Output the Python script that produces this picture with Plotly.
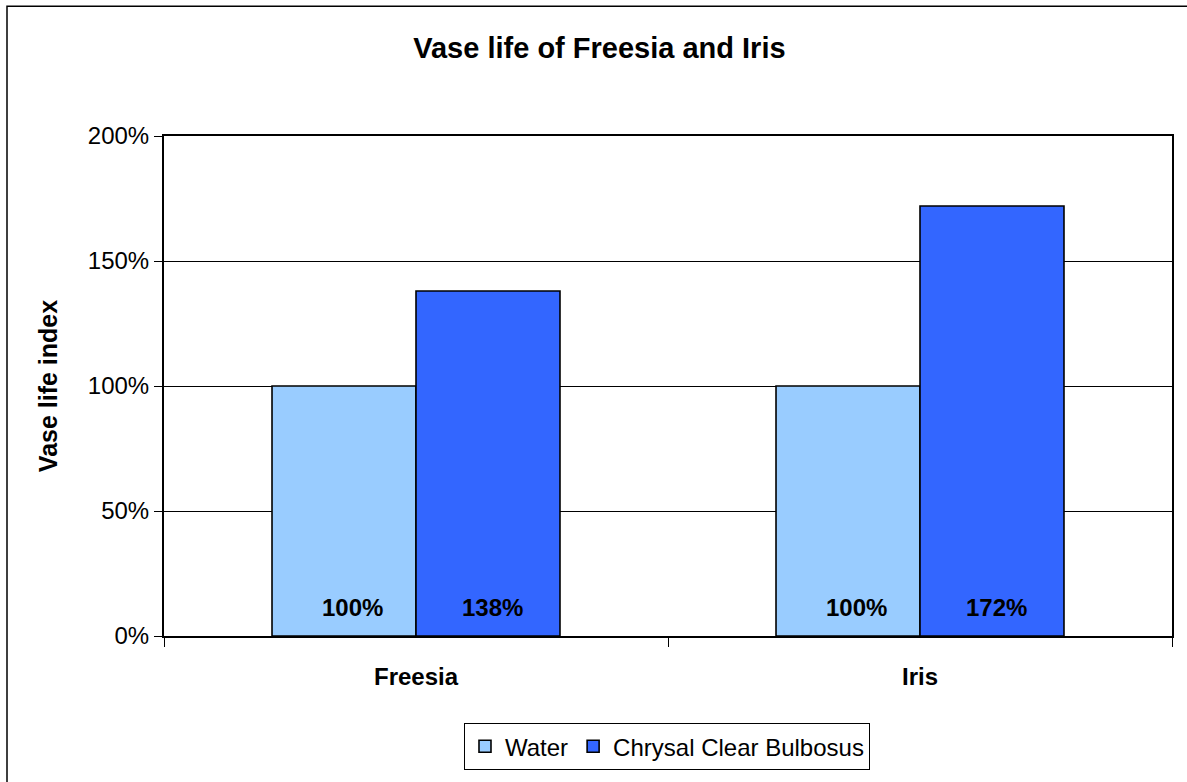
import plotly.graph_objects as go

categories = ["Freesia", "Iris"]
series_names = ["Water", "Chrysal Clear Bulbosus"]
water = [1.00, 1.00]
chrysal = [1.38, 1.72]
colors = ["#99CCFF", "#3366FF"]
y_ticks = [0, 0.5, 1.0, 1.5, 2.0]
y_ticklabels = ["0%", "50%", "100%", "150%", "200%"]

FONT = "Liberation Sans, Arial, sans-serif"

T, B = 136, 141  # margins

fig = go.Figure()
for name, vals, col in zip(series_names, [water, chrysal], colors):
    fig.add_trace(go.Bar(
        x=categories, y=vals, name=name,
        marker=dict(color=col, line=dict(color="black", width=1.6)),
    ))

# data labels near bar bottoms
for vals, xs in [(water, -64), (chrysal, 76)]:
    for c, v in zip(categories, vals):
        fig.add_annotation(
            x=c, y=0, xref="x", yref="y", text=f"<b>{v:.0%}</b>", showarrow=False,
            xshift=xs, yshift=29, font=dict(family=FONT, size=24, color="black"),
        )

# outer chart border
ph = 782 - T - B
fig.add_shape(type="rect", xref="paper", yref="paper",
              x0=(6 - 163) / 1008, x1=(1195 - 163) / 1008,
              y0=((782 - B) - 790) / ph, y1=((782 - B) - 5) / ph,
              line=dict(color="black", width=1.5), fillcolor="rgba(0,0,0,0)", layer="below")

fig.update_layout(
    width=1187, height=782,
    margin=dict(l=164, r=15, t=T, b=B),
    paper_bgcolor="white", plot_bgcolor="white",
    barmode="group", bargap=0.4286, bargroupgap=0,
    font=dict(family=FONT, color="black"),
    title=dict(text="<b>Vase life of Freesia and Iris</b>", x=0.505, xanchor="center",
               y=1 - 48 / 782, yanchor="middle", font=dict(size=29, family=FONT, color="black")),
    legend=dict(orientation="h", x=0.499, xanchor="center", y=((782 - B) - 729) / ph, yanchor="top",
                bordercolor="black", borderwidth=1, font=dict(size=24, family=FONT, color="black"),
                traceorder="normal"),
    showlegend=True,
)
fig.update_xaxes(
    showline=True, linecolor="black", linewidth=2, mirror=True,
    ticks="outside", tickson="boundaries", ticklen=9, tickcolor="black", tickwidth=1,
    tickfont=dict(size=24, family=FONT, color="black", weight="bold"),
    ticklabelstandoff=18,
)
fig.update_yaxes(
    range=[0, 2.0], tickvals=y_ticks, ticktext=y_ticklabels,
    showline=True, linecolor="black", linewidth=2, mirror=True,
    ticks="outside", ticklen=8, tickcolor="black", tickwidth=1,
    showgrid=True, gridcolor="black", gridwidth=1,
    tickfont=dict(size=24, family=FONT, color="black"),
    title=dict(text="<b>Vase life index</b>", font=dict(size=25, family=FONT, color="black"), standoff=23),
    zeroline=False,
)

fig.write_html("out.html", config={"displayModeBar": False},
               post_script="document.body.style.margin='0';")
